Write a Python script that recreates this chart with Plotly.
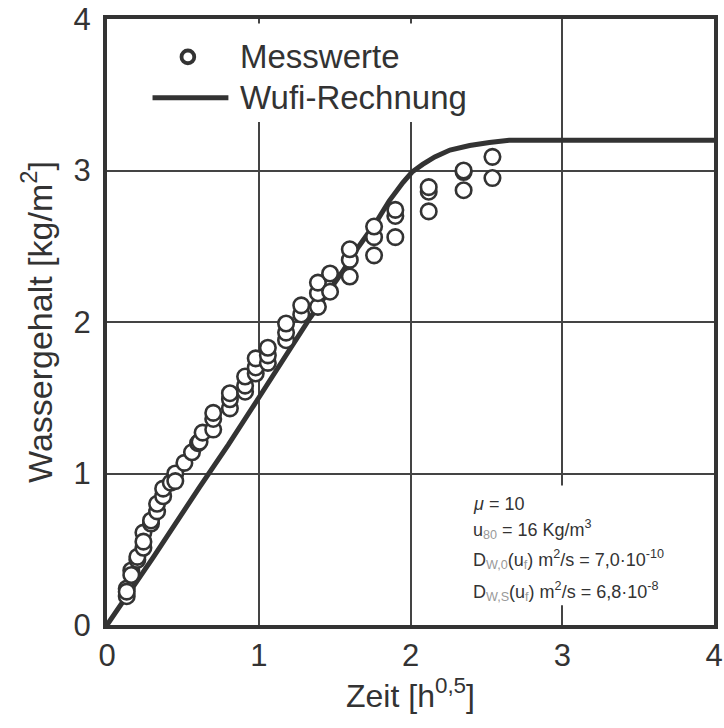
import plotly.graph_objects as go

# Measured values (Messwerte): time [h^0.5] and water content [kg/m2]
mess_x = [0.13, 0.13, 0.13, 0.16, 0.16, 0.20, 0.20, 0.24, 0.24, 0.24,
          0.29, 0.29, 0.33, 0.33, 0.37, 0.37, 0.42, 0.45, 0.45, 0.51,
          0.56, 0.60, 0.61, 0.63, 0.70, 0.70, 0.70, 0.81, 0.81, 0.81,
          0.91, 0.91, 0.91, 0.98, 0.98, 0.98, 1.06, 1.06, 1.06, 1.18,
          1.18, 1.18, 1.28, 1.28, 1.39, 1.39, 1.39, 1.47, 1.47, 1.60,
          1.60, 1.60, 1.76, 1.76, 1.76, 1.90, 1.90, 1.90, 2.12, 2.12,
          2.12, 2.35, 2.35, 2.35, 2.54, 2.54]
mess_y = [0.24, 0.19, 0.22, 0.36, 0.33, 0.43, 0.45, 0.51, 0.61, 0.55,
          0.67, 0.69, 0.75, 0.80, 0.85, 0.90, 0.94, 1.00, 0.95, 1.07,
          1.14, 1.20, 1.21, 1.27, 1.29, 1.36, 1.40, 1.43, 1.49, 1.53,
          1.54, 1.58, 1.64, 1.66, 1.70, 1.76, 1.73, 1.78, 1.83, 1.88,
          1.93, 1.99, 2.05, 2.11, 2.10, 2.19, 2.26, 2.20, 2.32, 2.30,
          2.41, 2.48, 2.44, 2.56, 2.63, 2.56, 2.70, 2.74, 2.73, 2.86,
          2.89, 2.87, 2.99, 3.00, 2.95, 3.09]

# Simulation (Wufi-Rechnung)
wufi_x = [0, 0.30, 0.61, 0.80, 1.00, 1.34, 1.55, 1.66, 1.78, 1.86, 1.95,
          2.01, 2.08, 2.16, 2.26, 2.39, 2.52, 2.65, 4.0]
wufi_y = [0, 0.44, 0.91, 1.19, 1.50, 2.03, 2.33, 2.50, 2.67, 2.80, 2.92,
          2.99, 3.04, 3.09, 3.135, 3.165, 3.185, 3.20, 3.20]

tick_vals = [0, 1, 2, 3, 4]
tick_text = ["0", "1", "2", "3", "4"]

legend_names = ["Messwerte", "Wufi-Rechnung"]
info_lines = [
    "<i>μ</i> = 10",
    "u<sub><span style='color:#999'>80</span></sub> = 16 Kg/m<sup>3</sup>",
    "D<sub><span style='color:#999'>W,0</span></sub>(u<sub><span style='color:#999'>f</span></sub>) m<sup>2</sup>/s = 7,0·10<sup>-10</sup>",
    "D<sub><span style='color:#999'>W,S</span></sub>(u<sub><span style='color:#999'>f</span></sub>) m<sup>2</sup>/s = 6,8·10<sup>-8</sup>",
]

DARK = "#333333"
FONT = "Liberation Sans, Arial, sans-serif"

fig = go.Figure()
fig.add_trace(go.Scatter(x=wufi_x, y=wufi_y, mode="lines", name=legend_names[1],
                         line=dict(color=DARK, width=5), showlegend=False))
fig.add_trace(go.Scatter(x=mess_x, y=mess_y, mode="markers", name=legend_names[0],
                         marker=dict(symbol="circle", size=15.5, color="white",
                                     line=dict(color=DARK, width=2.6)),
                         showlegend=False))

# manual legend box (white background covering grid)
fig.add_shape(type="rect", xref="x", yref="y", x0=0.06, x1=2.6, y0=3.32, y1=3.97,
              fillcolor="white", line=dict(width=0), layer="above")
fig.add_shape(type="circle", xref="x", yref="y", x0=0.533 - 0.042, x1=0.533 + 0.042,
              y0=3.75 - 0.042, y1=3.75 + 0.042, fillcolor="white",
              line=dict(color=DARK, width=3.8), layer="above")
fig.add_shape(type="line", xref="x", yref="y", x0=0.30, x1=0.80, y0=3.48, y1=3.48,
              line=dict(color=DARK, width=5), layer="above")
fig.add_annotation(x=0.86, y=3.75, xref="x", yref="y", text=legend_names[0],
                   showarrow=False, xanchor="left", yanchor="middle",
                   font=dict(size=33, color=DARK, family=FONT))
fig.add_annotation(x=0.86, y=3.48, xref="x", yref="y", text=legend_names[1],
                   showarrow=False, xanchor="left", yanchor="middle",
                   font=dict(size=33, color=DARK, family=FONT))

# info box
fig.add_shape(type="rect", xref="x", yref="y", x0=2.25, x1=3.95, y0=0.13, y1=0.92,
              fillcolor="white", line=dict(width=0), layer="above")
for yv, txt in zip([0.80, 0.63, 0.43, 0.22], info_lines):
    fig.add_annotation(x=2.40, y=yv, xref="x", yref="y", text=txt, showarrow=False,
                       xanchor="left", yanchor="middle",
                       font=dict(size=18, color=DARK, family=FONT))

axis_common = dict(range=[0, 4], tickvals=tick_vals, ticktext=tick_text,
                   showgrid=True, gridcolor="#444444", gridwidth=1.8,
                   showline=True, linecolor=DARK, linewidth=4, mirror=True,
                   ticks="", zeroline=False, automargin=False,
                   tickfont=dict(size=31, color=DARK, family=FONT))

fig.update_layout(
    width=724, height=728,
    margin=dict(l=107, r=10, t=19, b=103),
    paper_bgcolor="white", plot_bgcolor="white",
    font=dict(family=FONT, color=DARK),
    xaxis=dict(**axis_common, ticklabelstandoff=0,
               title=dict(text="Zeit [h<sup>0,5</sup>]", standoff=10,
                          font=dict(size=32, color=DARK, family=FONT))),
    yaxis=dict(**axis_common, ticklabelstandoff=6,
               title=dict(text="Wassergehalt [kg/m<sup>2</sup>]", standoff=12,
                          font=dict(size=34, color=DARK, family=FONT))),
)

fig.write_html("out.html", config={"displayModeBar": False},
               post_script="document.body.style.margin='0';")
